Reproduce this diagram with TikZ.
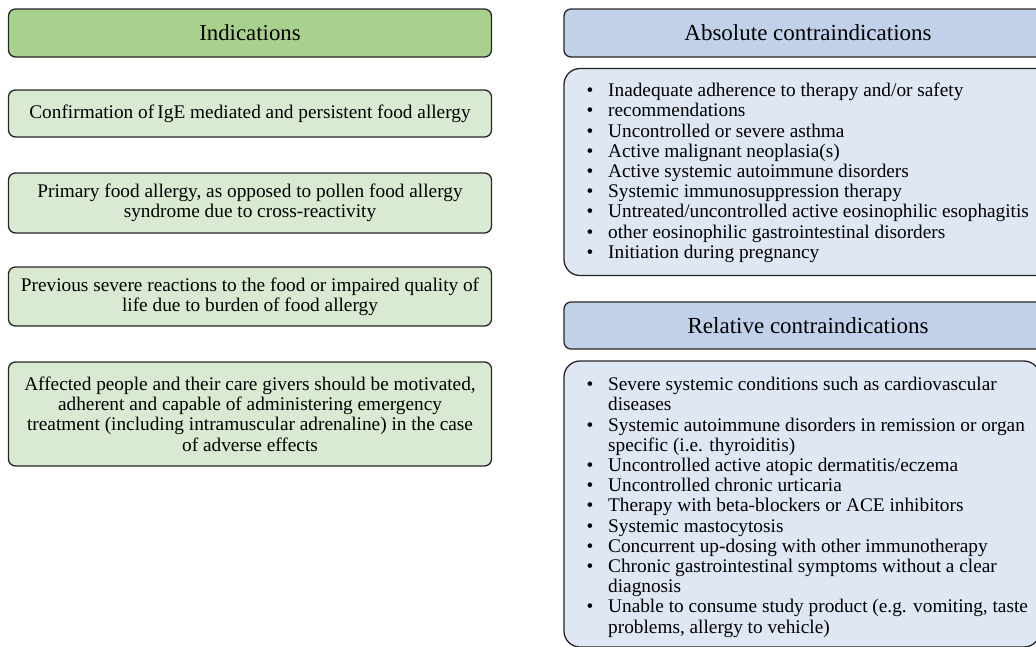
\documentclass[tikz,border=0pt]{standalone}
\usepackage{fontspec}
\setmainfont{Liberation Serif}
\definecolor{headgreen}{HTML}{A9D18E}
\definecolor{boxgreen}{HTML}{DAEAD2}
\definecolor{headblue}{HTML}{C2D1EA}
\definecolor{boxblue}{HTML}{DFE6F4}
\newcommand{\itm}[1]{\makebox[22pt][l]{\hspace{0.5pt}•}#1\\}
\newcommand{\cnt}[1]{\hspace*{22pt}#1\\}
\begin{document}
\begin{tikzpicture}[x=1pt,y=-1pt,
  frame/.style={draw=black!85, line width=1.3pt, rounded corners=7pt, inner sep=0pt},
  ghead/.style={frame, fill=headgreen, font=\fontsize{22.8}{26}\selectfont},
  gbox/.style={frame, fill=boxgreen, align=center, font=\fontsize{19.3}{20.2}\selectfont},
  bhead/.style={frame, fill=headblue},
  bbox/.style={frame, fill=boxblue, rounded corners=16pt},
  title/.style={font=\fontsize{23}{26}\selectfont},
  listtext/.style={align=left, inner sep=0pt, font=\fontsize{19.3}{20.2}\selectfont}]
\useasboundingbox (0,0) rectangle (1036,646);
\clip (0,0) rectangle (1036,646);

% left column: indications
\node[ghead, minimum width=483pt, minimum height=48pt] (ind) at (250,33) {Indications};
\node[gbox, minimum width=483pt, minimum height=47pt] (i1) at (250,113.5)
  {Confirmation of\,IgE mediated and persistent food allergy};
\node[gbox, minimum width=483pt, minimum height=60pt] (i2) at (250,203)
  {Primary food allergy, as opposed to pollen food allergy\\syndrome due to cross-reactivity};
\node[gbox, minimum width=483pt, minimum height=59pt] (i3) at (250,296.5)
  {Previous severe reactions to the food or impaired quality of\\life due to burden of food allergy};
\node[gbox, minimum width=483pt, minimum height=104pt] (i4) at (250,414)
  {Affected people and their care givers should be motivated,\\
   adherent and capable of administering emergency\\
   treatment (including intramuscular adrenaline) in the case\\
   of adverse effects};

% right column: contraindications
\node[bhead, minimum width=490pt, minimum height=48pt] (abshead) at (809,33) {};
\node[title] (abstitle) at (808,33) {Absolute contraindications};
\node[bbox, minimum width=490pt, minimum height=207pt] (absbox) at (809,172) {};
\node[listtext, anchor=north west] (abslist) at (586,83) {%
  \itm{Inadequate adherence to therapy and/or safety}
  \itm{recommendations}
  \itm{Uncontrolled or severe asthma}
  \itm{Active malignant neoplasia(s)}
  \itm{Active systemic autoimmune disorders}
  \itm{Systemic immunosuppression therapy}
  \itm{Untreated/uncontrolled active eosinophilic esophagitis}
  \itm{other eosinophilic gastrointestinal disorders}
  \itm{Initiation during pregnancy}};

\node[bhead, minimum width=490pt, minimum height=47pt] (relhead) at (809,325.5) {};
\node[title] (reltitle) at (808,325.5) {Relative contraindications};
\node[bbox, minimum width=476pt, minimum height=286pt] (relbox) at (802,504) {};
\node[listtext, anchor=north west] (rellist) at (586,377) {%
  \itm{Severe systemic conditions such as cardiovascular}
  \cnt{diseases}
  \itm{Systemic autoimmune disorders in remission or organ}
  \cnt{specific (i.e. thyroiditis)}
  \itm{Uncontrolled active atopic dermatitis/eczema}
  \itm{Uncontrolled chronic urticaria}
  \itm{Therapy with beta-blockers or ACE inhibitors}
  \itm{Systemic mastocytosis}
  \itm{Concurrent up-dosing with other immunotherapy}
  \itm{Chronic gastrointestinal symptoms without a clear}
  \cnt{diagnosis}
  \itm{Unable to consume study product (e.g. vomiting, taste}
  \cnt{problems, allergy to vehicle)}};
\end{tikzpicture}
\end{document}
